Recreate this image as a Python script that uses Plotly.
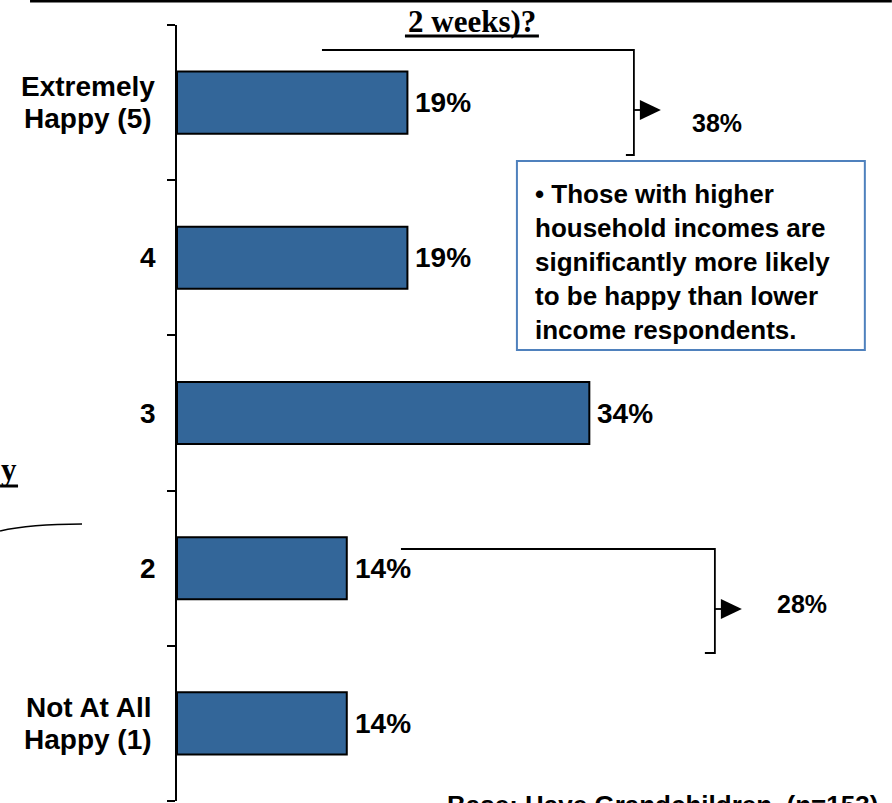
import plotly.graph_objects as go

# ---- data ----
categories = ["Extremely<br>Happy (5)", "4", "3", "2", "Not At All<br>Happy (1)"]
values = [19, 19, 34, 14, 14]
value_labels = ["19%", "19%", "34%", "14%", "14%"]
top_two_label = "38%"
bottom_two_label = "28%"
title_text = "2 weeks)?"
note_lines = [
    "\u2022 Those with higher",
    "household incomes are",
    "significantly more likely",
    "to be happy than lower",
    "income respondents.",
]
base_text = "Base: Have Grandchildren  (n=153)"

# ---- layout geometry (pixels) ----
W, H = 892, 803
L, T, B = 177, 25, 2
XMAX = 55
PX_PER = 12.13
PW = XMAX * PX_PER
R = W - L - PW
PH = H - T - B

def X(px):
    return (px - L) / PW

def Y(py):
    return (H - B - py) / PH

SANS = "Liberation Sans, Arial, sans-serif"
SERIF = "Liberation Serif, Times New Roman, serif"
BAR = "#336699"

order = categories[::-1]  # bottom-to-top order on the axis

fig = go.Figure(go.Bar(
    y=categories, x=values, orientation="h",
    width=0.4,
    marker=dict(color=BAR, line=dict(color="black", width=2)),
    hoverinfo="skip",
))

ann = []
shapes = []

# category labels (centered lines, right edge near axis)
for cat in categories:
    pos = order.index(cat)
    lines = cat.split("<br>")
    n = len(lines)
    for i, ln in enumerate(lines):
        off = (i - (n - 1) / 2) * 32
        ann.append(dict(x=X(88 if n > 1 else 158), xref="paper", y=pos, yref="y",
                        xanchor="center" if n > 1 else "right", yanchor="middle",
                        yshift=-off, text="<b>%s</b>" % ln, showarrow=False,
                        font=dict(family=SANS, size=28, color="black")))

# value labels
for cat, v, lab in zip(categories, values, value_labels):
    pos = order.index(cat)
    ann.append(dict(x=v, xref="x", y=pos, yref="y", xanchor="left", yanchor="middle",
                    xshift=6, text="<b>%s</b>" % lab, showarrow=False,
                    font=dict(family=SANS, size=28, color="black")))

# title fragment
ann.append(dict(x=X(472), xref="paper", y=Y(21), yref="paper", xanchor="center",
                yanchor="middle", text="<b>%s</b>" % title_text, showarrow=False,
                font=dict(family=SERIF, size=31, color="black")))
shapes.append(dict(type="line", xref="paper", yref="paper", x0=X(405), x1=X(539),
                   y0=Y(36), y1=Y(36), line=dict(color="black", width=3)))

# top rule
shapes.append(dict(type="line", xref="paper", yref="paper", x0=X(30), x1=X(892),
                   y0=Y(1), y1=Y(1), line=dict(color="black", width=3)))

# left fragment "y" and curve
ann.append(dict(x=X(19), xref="paper", y=Y(470), yref="paper", xanchor="right",
                yanchor="middle", text="<b>y</b>", showarrow=False,
                font=dict(family=SERIF, size=31, color="black")))
shapes.append(dict(type="line", xref="paper", yref="paper", x0=X(0), x1=X(18),
                   y0=Y(486), y1=Y(486), line=dict(color="black", width=3)))
shapes.append(dict(type="path", xref="paper", yref="paper",
                   path="M %f,%f Q %f,%f %f,%f" % (X(0), Y(531), X(30), Y(524), X(82), Y(524)),
                   line=dict(color="black", width=1.5)))

def bracket(x_start, y_top, x_v, y_bot, tick_x, arrow_y, label, lab_x, lab_y):
    shapes.append(dict(type="path", xref="paper", yref="paper",
                       path="M %f,%f L %f,%f L %f,%f L %f,%f" % (
                           X(x_start), Y(y_top), X(x_v), Y(y_top), X(x_v), Y(y_bot),
                           X(tick_x), Y(y_bot)),
                       line=dict(color="black", width=1.8)))
    shapes.append(dict(type="line", xref="paper", yref="paper", x0=X(x_v), x1=X(x_v + 7),
                       y0=Y(arrow_y), y1=Y(arrow_y), line=dict(color="black", width=1.8)))
    shapes.append(dict(type="path", xref="paper", yref="paper",
                       path="M %f,%f L %f,%f L %f,%f Z" % (
                           X(x_v + 6), Y(arrow_y - 10), X(x_v + 27), Y(arrow_y),
                           X(x_v + 6), Y(arrow_y + 10)),
                       fillcolor="black", line=dict(color="black", width=0)))
    ann.append(dict(x=X(lab_x), xref="paper", y=Y(lab_y), yref="paper", xanchor="center",
                    yanchor="middle", text="<b>%s</b>" % label, showarrow=False,
                    font=dict(family=SANS, size=25, color="black")))

bracket(322, 50, 634, 155, 626, 110, top_two_label, 717, 123)
bracket(401, 549, 715, 653, 705, 609, bottom_two_label, 802, 604)

# note box
shapes.append(dict(type="rect", xref="paper", yref="paper", x0=X(517), x1=X(865),
                   y0=Y(350), y1=Y(161), line=dict(color="#4F81BD", width=2),
                   fillcolor="white", layer="above"))
for i, ln in enumerate(note_lines):
    ann.append(dict(x=X(533), xref="paper", y=Y(194 + 34 * i), yref="paper",
                    xanchor="left", yanchor="middle", text="<b>%s</b>" % ln,
                    showarrow=False, font=dict(family=SANS, size=26, color="black")))

# base text
ann.append(dict(x=X(445), xref="paper", y=Y(788), yref="paper", xanchor="left",
                yanchor="top", text="<b>%s</b>" % base_text, showarrow=False,
                font=dict(family=SANS, size=26, color="black")))

fig.update_layout(
    width=W, height=H,
    margin=dict(l=L, r=R, t=T, b=B, pad=0),
    paper_bgcolor="white", plot_bgcolor="white",
    showlegend=False,
    bargap=0.6,
    xaxis=dict(range=[0, XMAX], visible=False, fixedrange=True),
    yaxis=dict(type="category", categoryorder="array", categoryarray=order,
               autorange=False, range=[-0.5, len(categories) - 0.5],
               showticklabels=False, showgrid=False, zeroline=False,
               showline=True, linecolor="black", linewidth=2,
               ticks="outside", ticklen=8, tickwidth=2, tickcolor="black",
               tickson="boundaries", fixedrange=True),
    annotations=ann,
    shapes=shapes,
)

fig.write_html("out.html", config={"displayModeBar": False},
               post_script="document.body.style.margin='0';document.body.style.overflow='hidden';")
